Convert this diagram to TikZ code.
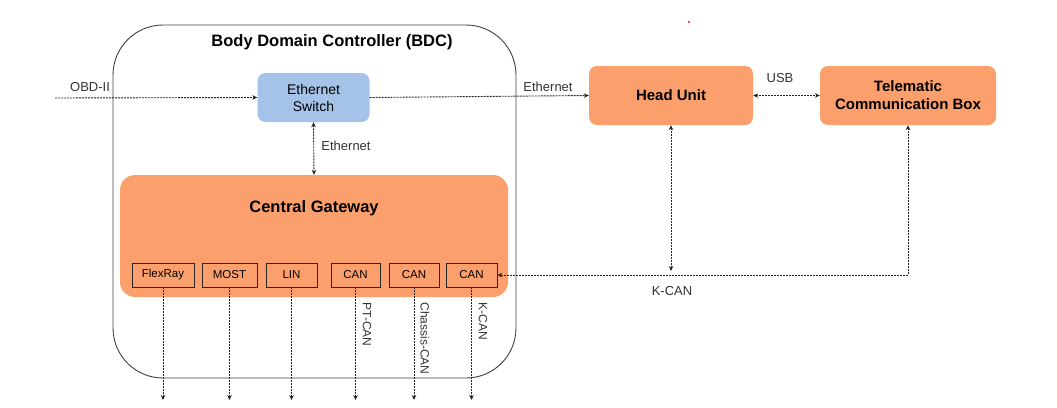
\documentclass[tikz,border=0pt]{standalone}
\usepackage{fontspec}
\setmainfont{Liberation Sans}
\usetikzlibrary{arrows.meta}
\definecolor{ecuorange}{HTML}{FBA06D}
\definecolor{switchblue}{HTML}{A5C3E8}
\definecolor{wire}{HTML}{222222}
\tikzset{
  link/.style={draw=wire, line width=0.9pt, dash pattern=on 2pt off 1pt, -{Stealth[length=5pt,width=4.5pt]}},
  both/.style={{Stealth[length=5pt,width=4.5pt]}-{Stealth[length=5pt,width=4.5pt]}},
  biglabel/.style={font=\fontsize{16.5}{19}\selectfont\bfseries},
  smalllabel/.style={font=\fontsize{13}{15}\selectfont, text=black!80},
  ecu/.style={fill=ecuorange, rounded corners=8pt, align=center, font=\fontsize{15}{18}\selectfont\bfseries},
  busbox/.style={draw=black!85, line width=0.8pt, minimum height=24pt, inner sep=0pt, font=\fontsize{11.5}{13}\selectfont}
}
\begin{document}
\begin{tikzpicture}[x=1pt,y=-1pt]
        \useasboundingbox (0,0) rectangle (1057,407);
        % body domain controller
        \node[draw=black!75, line width=0.9pt, rounded corners=50pt, minimum width=403pt, minimum height=353pt] (bdc) at (314.5,201.5) {};
        \node[biglabel] (title) at (332,42) {Body Domain Controller (BDC)};
        \node[fill=switchblue, rounded corners=8pt, minimum width=112pt, minimum height=49pt, align=center, font=\fontsize{14}{17}\selectfont] (sw) at (313.5,97.5) {Ethernet\\Switch};
        \node[fill=ecuorange, rounded corners=15pt, minimum width=388pt, minimum height=122pt] (cgw) at (314,236) {};
        \node[biglabel] (cgwtitle) at (314,208) {Central Gateway};
        % bus ports
        \node[busbox, minimum width=62pt] (flex) at (163,275) {FlexRay};
        \node[busbox, minimum width=55pt] (most) at (229.5,275) {MOST};
        \node[busbox, minimum width=51pt] (lin) at (291.5,275) {LIN};
        \node[busbox, minimum width=49pt] (can1) at (355.5,275) {CAN};
        \node[busbox, minimum width=50pt] (can2) at (414,275) {CAN};
        \node[busbox, minimum width=51pt] (can3) at (471.5,275) {CAN};
        % outside ECUs
        \node[ecu, minimum width=164pt, minimum height=59pt] (hu) at (671,95.5) {Head Unit};
        \node[ecu, minimum width=176pt, minimum height=59pt] (tcb) at (908,95.5) {Telematic\\Communication Box};
        % connections
        \coordinate (obd) at (55,98);
        \coordinate (kcan) at (671,271);
        \draw[link] (obd) -- (sw.west);
        \node[smalllabel] (obdlabel) at (90,87) {OBD-II};
        \draw[link] (sw.east) -- (hu.west);
        \node[smalllabel] (ethlabel) at (548,87) {Ethernet};
        \draw[link, both] (hu.east) -- (tcb.west);
        \node[smalllabel] (usblabel) at (780,78) {USB};
        \draw[link, both] (sw.south) -- (cgw.north);
        \node[smalllabel] (ethlabel2) at (346,146) {Ethernet};
        \draw[link, both] (tcb.south) |- (can3.east);
        \draw[link, both] (hu.south) -- (kcan);
        \node[smalllabel] (kcanlabel) at (672,291) {K-CAN};
        \foreach \b in {flex,most,lin,can1,can2,can3}
          \draw[link] (\b.south) -- (\b.south |- 0,400);
        \node[smalllabel, font=\fontsize{12}{14}\selectfont, rotate=-90, anchor=west] (ptcan) at (367,299) {PT-CAN};
        \node[smalllabel, font=\fontsize{12}{14}\selectfont, rotate=-90, anchor=west] (chcan) at (425,299) {Chassis-CAN};
        \node[smalllabel, font=\fontsize{12}{14}\selectfont, rotate=-90, anchor=west] (kcan2) at (483,299) {K-CAN};
        \fill[red] (689,22) circle (1.2pt);
    \end{tikzpicture}
\end{document}
